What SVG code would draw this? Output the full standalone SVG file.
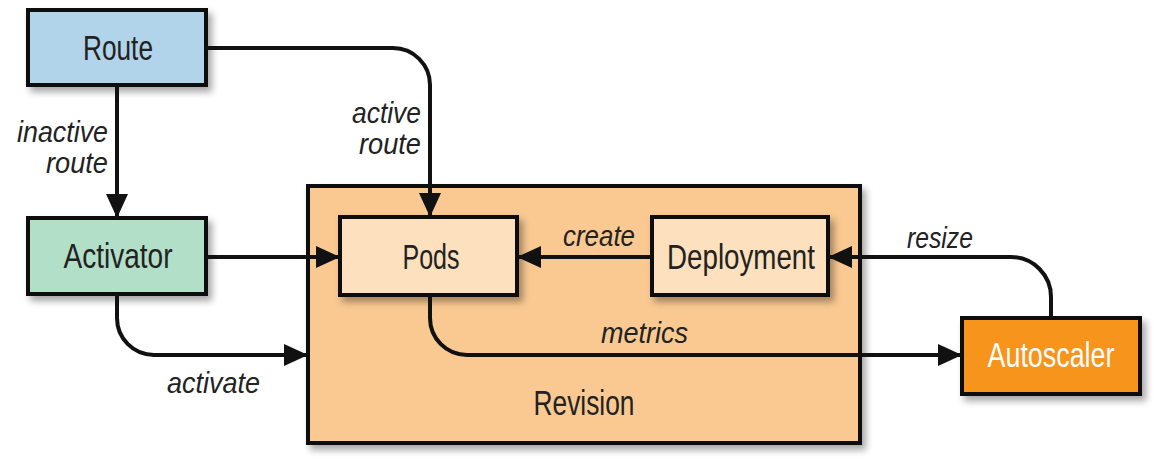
<svg xmlns="http://www.w3.org/2000/svg" width="1159" height="464" viewBox="0 0 1159 464">
<defs>
<filter id="sh" x="-20%" y="-20%" width="150%" height="150%">
<feDropShadow dx="4" dy="5" stdDeviation="3.5" flood-color="#000" flood-opacity="0.35"/>
</filter>
<marker id="ah" markerUnits="userSpaceOnUse" markerWidth="24" markerHeight="24" viewBox="0 0 24 24" refX="24" refY="12" orient="auto">
<path d="M0,1 L24,12 L0,23 Z" fill="#111"/>
</marker>
<style>
.box{stroke:#111;stroke-width:4}
.lbl{font-family:"Liberation Sans",Arial,sans-serif;font-size:35px;fill:#222;text-anchor:middle}
.it{font-family:"Liberation Sans",Arial,sans-serif;font-size:30px;font-style:italic;fill:#222}
.ln{fill:none;stroke:#111;stroke-width:4}
</style>
</defs>
<rect width="1159" height="464" fill="#fff"/>
<g id="revision">
<rect class="box" x="308" y="186" width="552" height="257" fill="#f9c991" filter="url(#sh)"/>
<text class="lbl" x="584" y="415" textLength="101" lengthAdjust="spacingAndGlyphs">Revision</text>
</g>
<g id="route">
<rect class="box" x="28" y="10" width="178" height="75" fill="#b2d4ea" filter="url(#sh)"/>
<text class="lbl" x="118" y="60" textLength="70" lengthAdjust="spacingAndGlyphs">Route</text>
</g>
<g id="activator">
<rect class="box" x="28" y="218" width="178" height="76" fill="#b2dfc8" filter="url(#sh)"/>
<text class="lbl" x="118" y="268" textLength="109" lengthAdjust="spacingAndGlyphs">Activator</text>
</g>
<g id="pods">
<rect class="box" x="340" y="217" width="177" height="78" fill="#fde0bd" filter="url(#sh)"/>
<text class="lbl" x="431" y="269" textLength="57" lengthAdjust="spacingAndGlyphs">Pods</text>
</g>
<g id="deployment">
<rect class="box" x="652" y="217" width="176" height="78" fill="#fde0bd" filter="url(#sh)"/>
<text class="lbl" x="741" y="269" textLength="148" lengthAdjust="spacingAndGlyphs">Deployment</text>
</g>
<g id="autoscaler">
<rect class="box" x="962" y="318" width="178" height="76" fill="#f7941e" filter="url(#sh)"/>
<text class="lbl" x="1051" y="367" textLength="127" lengthAdjust="spacingAndGlyphs" style="fill:#fff">Autoscaler</text>
</g>
<g id="connectors">
<path class="ln" d="M117,85 V218" marker-end="url(#ah)"/>
<path class="ln" d="M206,48 H393 A37,37 0 0 1 430,85 V217" marker-end="url(#ah)"/>
<path class="ln" d="M206,257 H340" marker-end="url(#ah)"/>
<path class="ln" d="M117,294 V318 A37,37 0 0 0 154,355 H308" marker-end="url(#ah)"/>
<path class="ln" d="M652,257 H517" marker-end="url(#ah)"/>
<path class="ln" d="M430,295 V318 A37,37 0 0 0 467,355 H962" marker-end="url(#ah)"/>
<path class="ln" d="M1051,318 V297 A40,40 0 0 0 1011,257 H828" marker-end="url(#ah)"/>
</g>
<g id="labels">
<text class="it" x="108" y="142" text-anchor="end" textLength="91" lengthAdjust="spacingAndGlyphs">inactive</text>
<text class="it" x="108" y="173" text-anchor="end" textLength="62" lengthAdjust="spacingAndGlyphs">route</text>
<text class="it" x="421" y="123" text-anchor="end" textLength="69" lengthAdjust="spacingAndGlyphs">active</text>
<text class="it" x="421" y="154" text-anchor="end" textLength="62" lengthAdjust="spacingAndGlyphs">route</text>
<text class="it" x="563" y="246" textLength="72" lengthAdjust="spacingAndGlyphs">create</text>
<text class="it" x="601" y="343" textLength="87" lengthAdjust="spacingAndGlyphs">metrics</text>
<text class="it" x="907" y="248" textLength="66" lengthAdjust="spacingAndGlyphs">resize</text>
<text class="it" x="167" y="393" textLength="93" lengthAdjust="spacingAndGlyphs">activate</text>
</g>
</svg>
